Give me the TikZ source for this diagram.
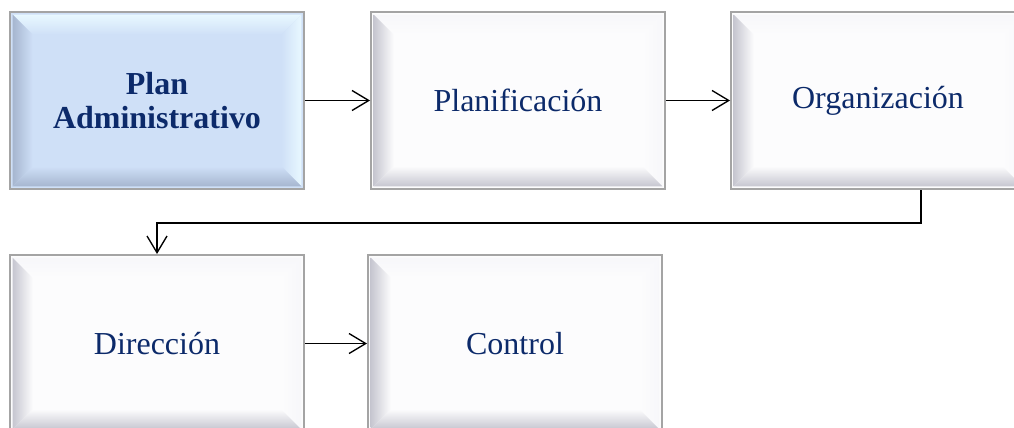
\documentclass[tikz,border=0pt]{standalone}
\usepackage{fontspec}
\setmainfont{Liberation Serif}
\usetikzlibrary{arrows.meta,calc}
\definecolor{navy}{HTML}{0C2A6A}
\definecolor{bordergray}{HTML}{A4A4A4}
\definecolor{faceblue}{HTML}{CFE0F7}
\definecolor{darkblue}{HTML}{A6B6CF}
\definecolor{lightblue}{HTML}{E8F8FF}
\definecolor{facewhite}{HTML}{FCFCFD}
\definecolor{darkwhite}{HTML}{C6C6D0}
\definecolor{lightwhite}{HTML}{F7F7FA}
\def\bw{15pt}
\def\gp{2pt}
\tikzset{
  bevelbox/.style n args={3}{
    draw=bordergray, line width=1.5pt, fill=#1,
    minimum width=220.5pt, minimum height=132.75pt,
    inner sep=0pt, align=center, text=navy,
    font=\fontsize{24}{25.5}\selectfont,
    path picture={
      \path ([shift={(\gp,-\gp)}]path picture bounding box.north west) coordinate (oNW)
            ([shift={(-\gp,-\gp)}]path picture bounding box.north east) coordinate (oNE)
            ([shift={(-\gp,\gp)}]path picture bounding box.south east) coordinate (oSE)
            ([shift={(\gp,\gp)}]path picture bounding box.south west) coordinate (oSW);
      \path ([shift={(\bw,-\bw)}]oNW) coordinate (iNW)
            ([shift={(-\bw,-\bw)}]oNE) coordinate (iNE)
            ([shift={(-\bw,\bw)}]oSE) coordinate (iSE)
            ([shift={(\bw,\bw)}]oSW) coordinate (iSW);
      \shade[top color=#3, bottom color=#1] (oNW) -- (oNE) -- (iNE) -- (iNW) -- cycle;
      \shade[left color=#1, right color=#3] (oNE) -- (oSE) -- (iSE) -- (iNE) -- cycle;
      \shade[top color=#1, bottom color=#2] (oSW) -- (iSW) -- (iSE) -- (oSE) -- cycle;
      \shade[left color=#2, right color=#1] (oNW) -- (iNW) -- (iSW) -- (oSW) -- cycle;
    }
  },
  whitebox/.style={bevelbox={facewhite}{darkwhite}{lightwhite}},
  bluebox/.style={bevelbox={faceblue}{darkblue}{lightblue}},
  arr/.style={line width=1pt, draw=black, -{Straight Barb[length=12.5pt,width=15pt,line width=1pt]}}
}
\begin{document}
\begin{tikzpicture}[x=0.75pt, y=-0.75pt]
\useasboundingbox (0,0) rectangle (1014,428);
\clip (0,0) rectangle (1014,428);
\fill[white] (0,0) rectangle (1014,428);
\node[bluebox] (plan) at (157,100.5) {\textbf{Plan}\\\textbf{Administrativo}};
\node[whitebox] (planif) at (518,100.5) {Planificación};
\node[whitebox] (org) at (878,100.5) {Organización};
\node[whitebox] (dir) at (157,343.5) {Dirección};
\node[whitebox] (ctrl) at (515,343.5) {Control};
\coordinate (bend) at (921,223);
\draw[arr] (plan) -- (planif);
\draw[arr] (planif) -- (org);
\draw[arr] (org.south -| bend) -- (bend) -| (dir.north);
\draw[arr] (dir) -- (ctrl);
\end{tikzpicture}
\end{document}
